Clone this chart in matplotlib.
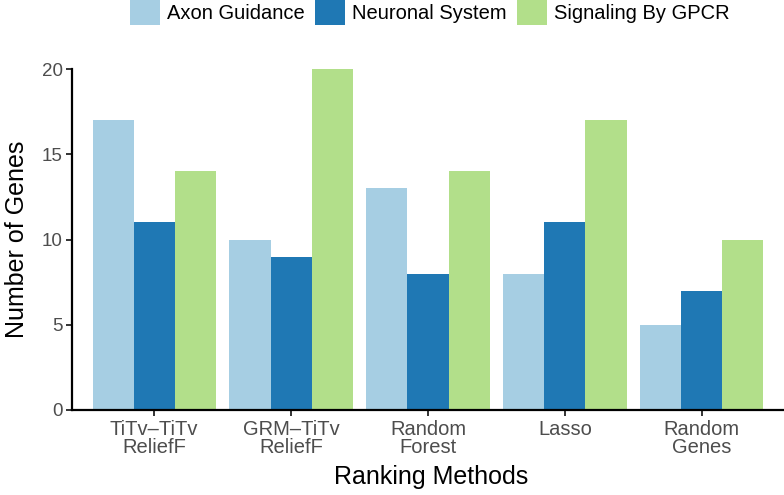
"""
Grouped bar chart: genes per pathway for each ranking method.
"""

import matplotlib
matplotlib.use('Agg')

import matplotlib.pyplot as plt
import numpy as np

plt.rcParams["font.family"] = ["Liberation Sans", "DejaVu Sans"]

methods = ["TiTv\u2013TiTv\nReliefF", "GRM\u2013TiTv\nReliefF", "Random\nForest", "Lasso", "Random\nGenes"]
axon_guidance = [17, 10, 13, 8, 5]
neuronal_system = [11, 9, 8, 11, 7]
signaling_gpcr = [14, 20, 14, 17, 10]

series = [
    ("Axon Guidance", axon_guidance, "#a6cee3"),
    ("Neuronal System", neuronal_system, "#1f78b4"),
    ("Signaling By GPCR", signaling_gpcr, "#b2df8a"),
]

fig = plt.figure(figsize=(7.84, 4.95), dpi=100)
ax = fig.add_axes([72 / 784, 1 - 410 / 495, 1 - 72 / 784, (410 - 69) / 495])

x = np.arange(1, len(methods) + 1)
width = 0.3
for i, (name, values, color) in enumerate(series):
    ax.bar(x + (i - 1) * width, values, width, label=name, color=color,
           edgecolor="none", zorder=2)

ax.set_xlim(0.4, len(methods) + 0.6)
ax.set_ylim(0, 20)
ax.set_yticks([0, 5, 10, 15, 20])
ax.set_xticks(x)
ax.set_xticklabels(methods, linespacing=0.95)

for side in ["top", "right"]:
    ax.spines[side].set_visible(False)
for side in ["left", "bottom"]:
    ax.spines[side].set_linewidth(1.6)
    ax.spines[side].set_color("black")

ax.tick_params(axis="x", length=4.5, width=1.4, color="#333333", labelsize=14.5,
               labelcolor="#4d4d4d", pad=2.5)
ax.tick_params(axis="y", length=4.5, width=1.4, color="#333333", labelsize=13.5,
               labelcolor="#4d4d4d", pad=2)

fig.text(17 / 784, 1 - 239 / 495, "Number of Genes", rotation=90, fontsize=18,
         ha="center", va="center")
fig.text(431 / 784, 1 - 477 / 495, "Ranking Methods", fontsize=18,
         ha="center", va="center")

fig.legend(loc="upper center", bbox_to_anchor=(430 / 784, 1.0), ncol=3,
           frameon=False, fontsize=14.5, handlelength=1.5, handleheight=1.5,
           handletextpad=0.35, columnspacing=0.5, borderpad=0, borderaxespad=0)

plt.savefig("out.png", dpi=100)
plt.close()
